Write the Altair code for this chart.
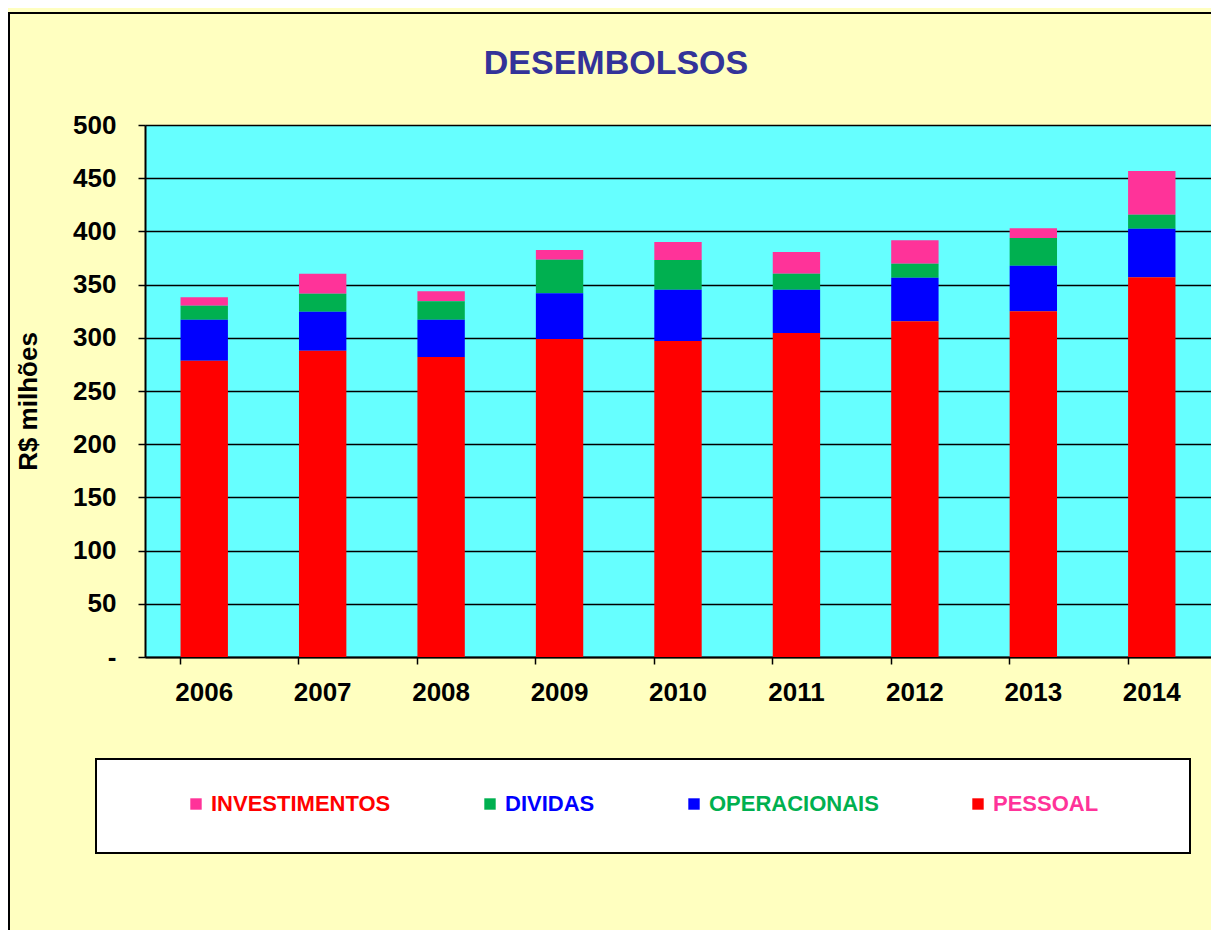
import altair as alt
import pandas as pd

# ---- data ----
years = ["2006", "2007", "2008", "2009", "2010", "2011", "2012", "2013", "2014"]
series = ["INVESTIMENTOS", "DIVIDAS", "OPERACIONAIS", "PESSOAL"]
investimentos = [7.9, 18.8, 9.4, 9.1, 16.9, 20.3, 21.9, 9.1, 41.1]
dividas = [13.2, 17.0, 17.3, 31.6, 27.9, 15.1, 13.2, 26.0, 13.1]
operacionais = [38.5, 36.6, 35.0, 42.9, 48.2, 40.7, 41.0, 42.9, 45.8]
pessoal = [278.5, 287.9, 282.0, 298.9, 297.0, 304.5, 315.5, 324.9, 356.8]
y_ticks = [0, 50, 100, 150, 200, 250, 300, 350, 400, 450, 500]
chart_title = ["DESEMBOLSOS"]

bar_colors = ["#FF3399", "#00B050", "#0000FF", "#FF0000"]
label_colors = ["#FF0000", "#0000FF", "#00B050", "#FF3399"]

values_by_series = [investimentos, dividas, operacionais, pessoal]
rows = []
for si, (name, vals) in enumerate(zip(series, values_by_series)):
    for y, v in zip(years, vals):
        rows.append({"ano": y, "serie": name, "valor": v, "ordem": len(series) - 1 - si})
df = pd.DataFrame(rows)

FONT = "Liberation Sans, Arial, sans-serif"
W, H = 1066, 532

expr = "'" + label_colors[-1] + "'"
for name, col in reversed(list(zip(series[:-1], label_colors[:-1]))):
    expr = f"datum.label == '{name}' ? '{col}' : " + expr

bars = alt.Chart(df).mark_bar().encode(
    x=alt.X("ano:N", sort=years, title=None,
            scale=alt.Scale(paddingInner=0.6, paddingOuter=0.3),
            axis=alt.Axis(labelAngle=0, bandPosition=0, labelFont=FONT, labelFontSize=26,
                          labelFontWeight="bold", labelColor="black", labelPadding=15,
                          tickColor="black", tickSize=7, tickWidth=1.5,
                          domainColor="black", domainWidth=2, grid=False)),
    y=alt.Y("valor:Q", stack="zero", title="R$ milhões",
            scale=alt.Scale(domain=[0, 500], nice=False),
            axis=alt.Axis(values=y_ticks, labelExpr="datum.value == 0 ? '-' : datum.label",
                          labelFont=FONT, labelFontSize=26, labelFontWeight="bold",
                          labelColor="black", labelPadding=22,
                          tickColor="black", tickSize=7, tickWidth=1.5,
                          domainColor="black", domainWidth=2,
                          grid=True, gridColor="black", gridWidth=1.5,
                          titleFont=FONT, titleFontSize=26,
                          titleFontWeight="bold", titleColor="black", titleAngle=270,
                          titleX=-117, titleY=276, titleAlign="center", titleBaseline="middle")),
    color=alt.Color("serie:N", sort=series,
                    scale=alt.Scale(domain=series, range=bar_colors),
                    legend=alt.Legend(orient="none", legendX=40, legendY=668,
                                      direction="horizontal", title=None,
                                      labelFont=FONT, labelFontSize=22, labelFontWeight="bold",
                                      labelColor={"expr": expr}, labelLimit=0,
                                      symbolType="square", symbolSize=130, symbolStrokeWidth=0,
                                      symbolOpacity=1, columnPadding=88, labelOffset=4,
                                      padding=0, zindex=1)),
    order=alt.Order("ordem:Q", sort="ascending"),
)

deco = pd.DataFrame({"k": [0]})
legend_box = alt.Chart(deco).mark_rect(fill="white", stroke="black", strokeWidth=2).encode(
    x=alt.value(-49), x2=alt.value(1045), y=alt.value(634), y2=alt.value(728))
left_border = alt.Chart(deco).mark_rule(color="black", strokeWidth=2).encode(
    x=alt.value(-136), y=alt.value(-112), y2=alt.value(805))
top_border = alt.Chart(deco).mark_rule(color="black", strokeWidth=2).encode(
    x=alt.value(-137), x2=alt.value(W), y=alt.value(-112))
title = alt.Chart(pd.DataFrame({"t": chart_title})).mark_text(
    font=FONT, fontSize=34, fontWeight="bold", color="#333399",
    align="center", baseline="alphabetic").encode(
    text="t:N", x=alt.value(471), y=alt.value(-51))

chart = alt.layer(left_border, top_border, legend_box, title, bars).properties(
    width=W, height=H,
    autosize=alt.AutoSizeParams(type="none"),
    padding={"left": 137, "top": 117, "right": 0, "bottom": 273},
).configure(background="#FFFFC0").configure_view(fill="#66FFFF", stroke=None)

chart.save("out.html", embed_options={"renderer": "svg", "actions": False})
